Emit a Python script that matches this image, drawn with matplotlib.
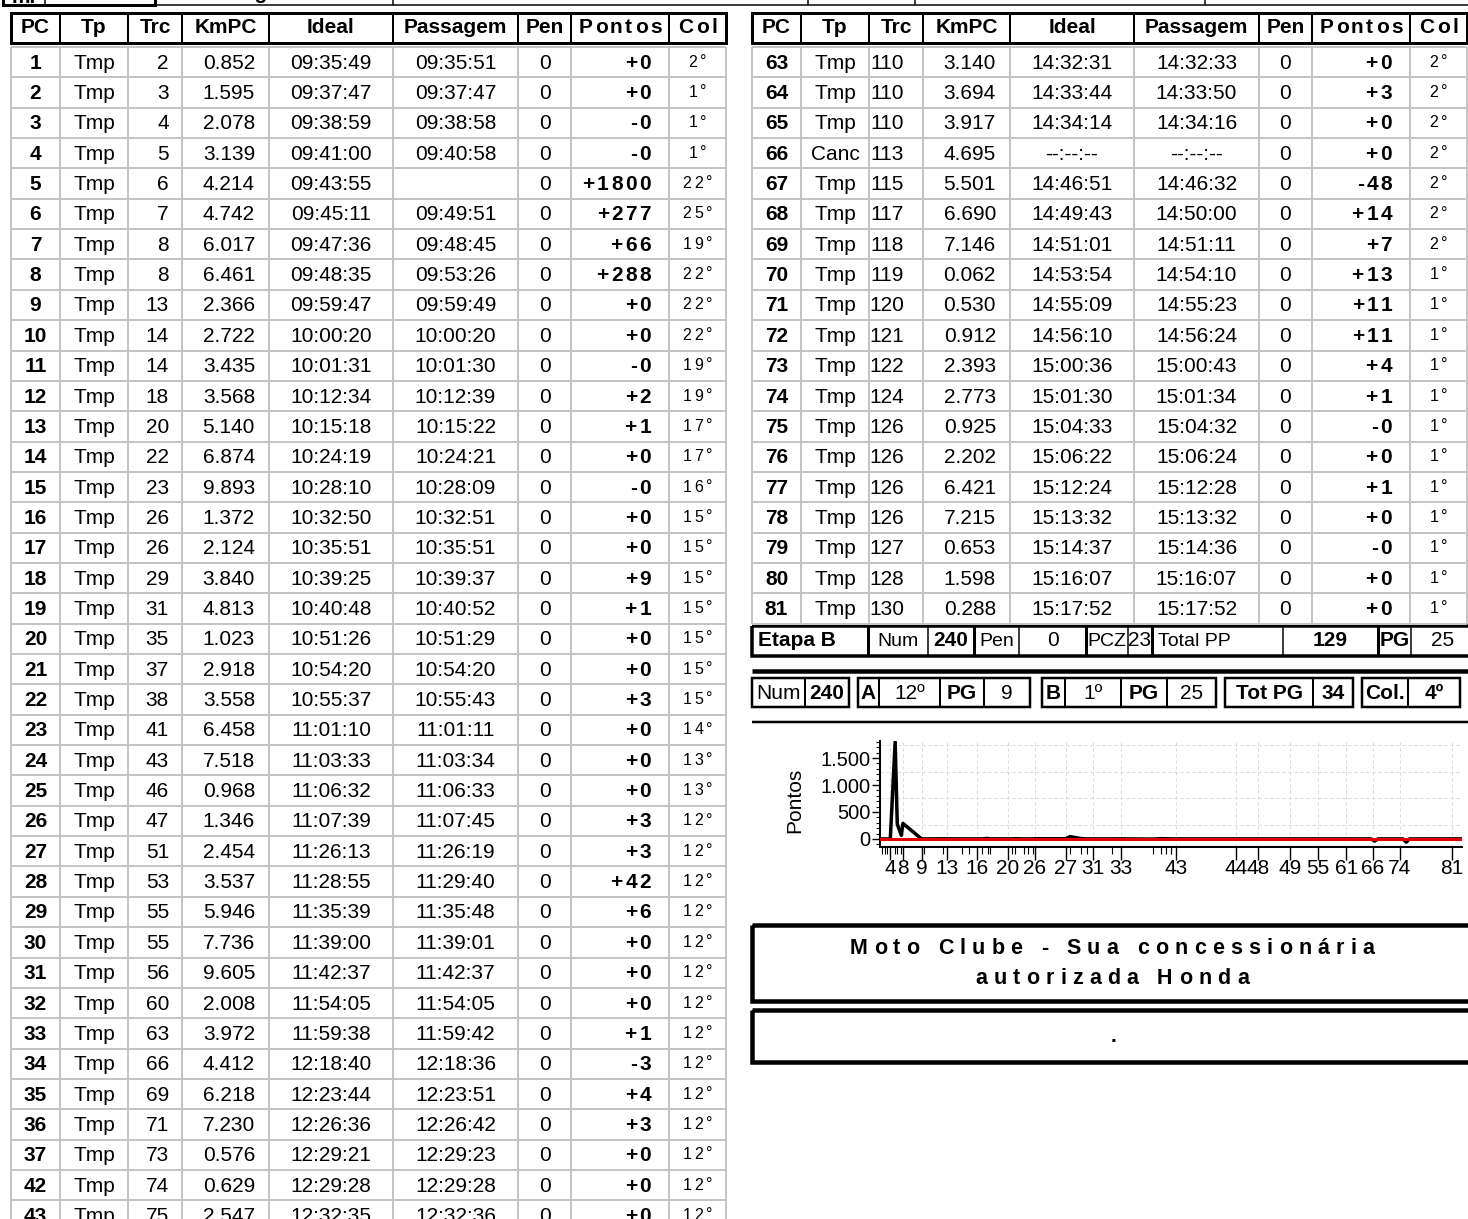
import matplotlib
matplotlib.use('Agg')
import matplotlib.pyplot as plt
from matplotlib.patches import Rectangle
from matplotlib.font_manager import FontProperties
from matplotlib.ticker import FixedLocator, MultipleLocator, FuncFormatter

W, H = 1468, 1219
DPI = 100
PX = 72 / DPI
FONT = ['Liberation Sans', 'DejaVu Sans']
plt.rcParams['font.family'] = FONT

# ---- table data -------------------------------------------------------
COLS = ['PC', 'Tp', 'Trc', 'KmPC', 'Ideal', 'Passagem', 'Pen', 'Pontos', 'Col']

pc_a = [1, 2, 3, 4, 5, 6, 7, 8, 9, 10, 11, 12, 13, 14, 15, 16, 17, 18, 19, 20,
        21, 22, 23, 24, 25, 26, 27, 28, 29, 30, 31, 32, 33, 34, 35, 36, 37, 42, 43]
tp_a = ['Tmp'] * 39
trc_a = [2, 3, 4, 5, 6, 7, 8, 8, 13, 14, 14, 18, 20, 22, 23, 26, 26, 29, 31, 35,
         37, 38, 41, 43, 46, 47, 51, 53, 55, 55, 56, 60, 63, 66, 69, 71, 73, 74, 75]
km_a = ['0.852', '1.595', '2.078', '3.139', '4.214', '4.742', '6.017', '6.461', '2.366', '2.722',
        '3.435', '3.568', '5.140', '6.874', '9.893', '1.372', '2.124', '3.840', '4.813', '1.023',
        '2.918', '3.558', '6.458', '7.518', '0.968', '1.346', '2.454', '3.537', '5.946', '7.736',
        '9.605', '2.008', '3.972', '4.412', '6.218', '7.230', '0.576', '0.629', '2.547']
ideal_a = ['09:35:49', '09:37:47', '09:38:59', '09:41:00', '09:43:55', '09:45:11', '09:47:36',
           '09:48:35', '09:59:47', '10:00:20', '10:01:31', '10:12:34', '10:15:18', '10:24:19',
           '10:28:10', '10:32:50', '10:35:51', '10:39:25', '10:40:48', '10:51:26', '10:54:20',
           '10:55:37', '11:01:10', '11:03:33', '11:06:32', '11:07:39', '11:26:13', '11:28:55',
           '11:35:39', '11:39:00', '11:42:37', '11:54:05', '11:59:38', '12:18:40', '12:23:44',
           '12:26:36', '12:29:21', '12:29:28', '12:32:35']
passagem_a = ['09:35:51', '09:37:47', '09:38:58', '09:40:58', '', '09:49:51', '09:48:45',
              '09:53:26', '09:59:49', '10:00:20', '10:01:30', '10:12:39', '10:15:22', '10:24:21',
              '10:28:09', '10:32:51', '10:35:51', '10:39:37', '10:40:52', '10:51:29', '10:54:20',
              '10:55:43', '11:01:11', '11:03:34', '11:06:33', '11:07:45', '11:26:19', '11:29:40',
              '11:35:48', '11:39:01', '11:42:37', '11:54:05', '11:59:42', '12:18:36', '12:23:51',
              '12:26:42', '12:29:23', '12:29:28', '12:32:36']
pen_a = [0] * 39
pontos_a = ['+0', '+0', '-0', '-0', '+1800', '+277', '+66', '+288', '+0', '+0', '-0', '+2', '+1',
            '+0', '-0', '+0', '+0', '+9', '+1', '+0', '+0', '+3', '+0', '+0', '+0', '+3', '+3',
            '+42', '+6', '+0', '+0', '+0', '+1', '-3', '+4', '+3', '+0', '+0', '+0']
col_a = [2, 1, 1, 1, 22, 25, 19, 22, 22, 22, 19, 19, 17, 17, 16, 15, 15, 15, 15, 15,
         15, 15, 14, 13, 13, 12, 12, 12, 12, 12, 12, 12, 12, 12, 12, 12, 12, 12, 12]

pc_b = list(range(63, 82))
tp_b = ['Tmp', 'Tmp', 'Tmp', 'Canc'] + ['Tmp'] * 15
trc_b = [110, 110, 110, 113, 115, 117, 118, 119, 120, 121, 122, 124, 126, 126, 126, 126, 127, 128, 130]
km_b = ['3.140', '3.694', '3.917', '4.695', '5.501', '6.690', '7.146', '0.062', '0.530', '0.912',
        '2.393', '2.773', '0.925', '2.202', '6.421', '7.215', '0.653', '1.598', '0.288']
ideal_b = ['14:32:31', '14:33:44', '14:34:14', '--:--:--', '14:46:51', '14:49:43', '14:51:01',
           '14:53:54', '14:55:09', '14:56:10', '15:00:36', '15:01:30', '15:04:33', '15:06:22',
           '15:12:24', '15:13:32', '15:14:37', '15:16:07', '15:17:52']
passagem_b = ['14:32:33', '14:33:50', '14:34:16', '--:--:--', '14:46:32', '14:50:00', '14:51:11',
              '14:54:10', '14:55:23', '14:56:24', '15:00:43', '15:01:34', '15:04:32', '15:06:24',
              '15:12:28', '15:13:32', '15:14:36', '15:16:07', '15:17:52']
pen_b = [0] * 19
pontos_b = ['+0', '+3', '+0', '+0', '-48', '+14', '+7', '+13', '+11', '+11', '+4', '+1', '-0',
            '+0', '+1', '+0', '-0', '+0', '+0']
col_b = [2, 2, 2, 2, 2, 2, 2, 1, 1, 1, 1, 1, 1, 1, 1, 1, 1, 1, 1]

# summary rows
etapa_cells = [('Etapa B', True), ('Num', False), ('240', True), ('Pen', False), ('0', False),
               ('PCZ', False), ('23', False), ('Total PP', False), ('129', True), ('PG', True),
               ('25', False)]
resumo_boxes = [[('Num', False), ('240', True)],
                [('A', True), ('12º', False), ('PG', True), ('9', False)],
                [('B', True), ('1º', False), ('PG', True), ('25', False)],
                [('Tot PG', True), ('34', True)],
                [('Col.', True), ('4º', True)]]
patrocinio = ['Moto Clube - Sua concessionária', 'autorizada Honda']

# chart: stage B part (stage A comes from the table)
graf_b_x = [213, 294, 296, 298, 313, 315, 317, 348.5]
graf_b_y = [0, 0, -40, 0, 0, -60, 0, 0]
tick_a_pc = [4, 8, 9, 13, 16, 20, 26, 27, 31, 33, 43]
tick_b_pc = [44, 48, 49, 55, 61, 66, 74, 81]
tick_b_x = [213, 226, 245.5, 262, 279, 295, 311, 342.5]

# ---- layout ---------------------------------------------------------------
COL_W = [49, 68, 54, 87, 124, 125, 53, 98, 57]
HEAD_TOP, HEAD_BOT = 12.7, 43
BODY_TOP, ROW_H = 47, 30.35
GRID = '#c4c4c4'

fig = plt.figure(figsize=(W / DPI, H / DPI), dpi=DPI)
ax = fig.add_axes([0, 0, 1, 1])
ax.set_xlim(0, W)
ax.set_ylim(H, 0)
ax.axis('off')
renderer = fig.canvas.get_renderer()


def ink_w(s, size, weight):
    fp = FontProperties(family=FONT, size=size, weight=weight)
    w, _, _ = renderer.get_text_width_height_descent(s, fp, ismath=False)
    return w


def stext(x, y, s, size=15, weight='normal', ha='center', spacing=0):
    if not spacing:
        ax.text(x, y, s, fontsize=size, fontweight=weight, ha=ha, va='center')
        return
    total = ink_w(s, size, weight) + spacing * (len(s) - 1)
    left = {'left': x, 'center': x - total / 2, 'right': x - total}[ha]
    for i, ch in enumerate(s):
        if ch == ' ':
            continue
        # ink right edge of the prefix minus this glyph's ink width
        xi = left + ink_w(s[:i + 1], size, weight) - ink_w(ch, size, weight) + i * spacing
        ax.text(xi, y, ch, fontsize=size, fontweight=weight, ha='left', va='center')


def hline(y, x1, x2, lw, color='black'):
    ax.plot([x1, x2], [y, y], color=color, lw=lw * PX, solid_capstyle='butt')


def vline(x, y1, y2, lw, color='black'):
    ax.plot([x, x], [y1, y2], color=color, lw=lw * PX, solid_capstyle='butt')


def draw_table(x0, cols, trc_pad):
    edges = [x0]
    for w in COL_W:
        edges.append(edges[-1] + w)
    # header
    ax.add_patch(Rectangle((edges[0], HEAD_TOP), edges[-1] - edges[0], HEAD_BOT - HEAD_TOP,
                           fill=False, ec='black', lw=3 * PX))
    for e in edges[1:-1]:
        vline(e, HEAD_TOP, HEAD_BOT, 2)
    hmid = (HEAD_TOP + HEAD_BOT) / 2
    for name, a, b in zip(COLS, edges[:-1], edges[1:]):
        sp = 2.5 if name in ('Pontos', 'Col') else 0
        stext((a + b) / 2, hmid, name, 15, 'bold', 'center', sp)
    # body grid
    n = len(cols[0])
    bottom = min(BODY_TOP + n * ROW_H, H + 2)
    for e in edges:
        vline(e, BODY_TOP, bottom, 2, GRID)
    for i in range(n + 1):
        y = BODY_TOP + i * ROW_H
        if y <= H:
            hline(y, edges[0], edges[-1], 2, GRID)
    pc, tp, trc, km, ideal, pas, pen, pts, col = cols
    for i in range(n):
        y = BODY_TOP + (i + 0.5) * ROW_H + 1
        c = lambda k: (edges[k] + edges[k + 1]) / 2
        stext(c(0), y, str(pc[i]), 15, 'bold')
        stext(c(1), y, tp[i], 15)
        stext(edges[3] - trc_pad, y, str(trc[i]), 15, ha='right')
        stext(edges[4] - 14, y, km[i], 15, ha='right')
        stext(c(4), y, ideal[i], 15)
        stext(c(5), y, pas[i], 15)
        stext(c(6), y, str(pen[i]), 15)
        stext(edges[8] - 18, y, pts[i], 15, 'bold', 'right', 2.5)
        stext(c(8), y - 1, f'{col[i]}°', 11.5, 'normal', 'center', 3)


# top strip (previous block, mostly cut off)
ax.add_patch(Rectangle((3, -30), 152, 35, fill=False, ec='black', lw=3 * PX))
vline(45, -5, 5, 1.5)
hline(5, 155, W, 1.5)
for xv in [393, 808, 915, 1205]:
    vline(xv, -5, 5, 1.5)
ax.text(24, 3, 'm.', fontsize=15, fontweight='bold', ha='center', va='baseline')
ax.text(258, -1, 'Categoria', fontsize=15, fontweight='bold', ha='center', va='baseline')

draw_table(11, [pc_a, tp_a, trc_a, km_a, ideal_a, passagem_a, pen_a, pontos_a, col_a], 13)
draw_table(752, [pc_b, tp_b, trc_b, km_b, ideal_b, passagem_b, pen_b, pontos_b, col_b], 19)

# Etapa B row
et_edges = [752, 868, 928, 974, 1019, 1086, 1128, 1152, 1283, 1378, 1411, 1475]
et_top, et_bot = 626, 656
ax.add_patch(Rectangle((752, et_top), 1475 - 752, et_bot - et_top, fill=False, ec='black', lw=3.5 * PX))
for k, e in enumerate(et_edges[1:-1], start=1):
    vline(e, et_top, et_bot, 3 if k in (1, 3, 5, 7, 9) else 1.5)
for k, (s, b) in enumerate(etapa_cells):
    a, z = et_edges[k], et_edges[k + 1]
    ym = (et_top + et_bot) / 2
    if s in ('Etapa B', 'Total PP'):
        stext(a + 6, ym, s, 15 if b else 14, 'bold' if b else 'normal', 'left')
    elif b:
        stext((a + z) / 2, ym, s, 15, 'bold')
    else:
        stext((a + z) / 2, ym, s, 14 if len(s) > 2 else 15, 'normal')
hline(671, 752, W, 4.5)

# summary boxes
box_edges = [[752, 805, 849], [858, 879, 940, 984, 1030], [1042, 1065, 1121, 1167, 1216],
             [1225, 1313, 1353], [1362, 1408, 1460]]
rs_top, rs_bot = 678, 707
for cells, ed in zip(resumo_boxes, box_edges):
    ax.add_patch(Rectangle((ed[0], rs_top), ed[-1] - ed[0], rs_bot - rs_top, fill=False,
                           ec='black', lw=2.5 * PX))
    for e in ed[1:-1]:
        vline(e, rs_top, rs_bot, 2)
    for (s, b), a, z in zip(cells, ed[:-1], ed[1:]):
        stext((a + z) / 2, (rs_top + rs_bot) / 2 + 1, s, 15, 'bold' if b else 'normal')
hline(722, 752, W, 2.5)

# sponsor boxes
ax.add_patch(Rectangle((752, 925), 730, 76, fill=False, ec='black', lw=4.5 * PX))
stext(1112, 948, patrocinio[0], 15.5, 'bold', 'center', 6.2)
stext(1112, 978, patrocinio[1], 15.5, 'bold', 'center', 6.2)
ax.add_patch(Rectangle((752, 1010), 730, 52, fill=False, ec='black', lw=4.5 * PX))
stext(1113, 1036, '.', 15, 'bold')

# ---- chart -------------------------------------------------------------------


def minutos(hms):
    h, m, s = (int(v) for v in hms.split(':'))
    return h * 60 + m + s / 60


t0 = minutos(ideal_a[0])
xa = [minutos(t) - t0 for t in ideal_a]
ya = [int(p) for p in pontos_a]
gx = xa + graf_b_x
gy = ya + graf_b_y

tick_x = [xa[pc_a.index(p)] for p in tick_a_pc] + tick_b_x
tick_lab = [str(p) for p in tick_a_pc + tick_b_pc]

cx0, cx1, cy0, cy1 = 880, 1462, 741, 847
ax2 = fig.add_axes([cx0 / W, 1 - cy1 / H, (cx1 - cx0) / W, (cy1 - cy0) / H])
ax2.patch.set_alpha(0)
ax2.plot(gx, gy, color='black', lw=3.5 * PX, zorder=3)
ax2.axhline(0, color='#e00000', lw=3 * PX, zorder=4)
ax2.set_xlim(-1, 348.5)
ax2.set_ylim(-150, 1817)
ax2.xaxis.set_major_locator(FixedLocator(tick_x))
ax2.set_xticklabels(tick_lab)
ax2.xaxis.set_minor_locator(FixedLocator(xa + tick_b_x))
ax2.yaxis.set_major_locator(FixedLocator([0, 500, 1000, 1500]))
ax2.yaxis.set_minor_locator(MultipleLocator(100))
ax2.yaxis.set_major_formatter(FuncFormatter(lambda v, p: f'{v:,.0f}'.replace(',', '.')))
for yv in [250, 750, 1250, 1750]:
    ax2.axhline(yv, color='#d8d8d8', lw=1 * PX, ls=(0, (3, 3)), zorder=1)
ax2.grid(axis='x', which='major', color='#d8d8d8', lw=1 * PX, ls=(0, (3, 3)), zorder=1)
for s in ['top', 'right']:
    ax2.spines[s].set_visible(False)
for s in ['left', 'bottom']:
    ax2.spines[s].set_linewidth(2 * PX)
ax2.tick_params(axis='y', which='major', labelsize=14.5, length=6, width=1, pad=1)
ax2.tick_params(axis='x', which='major', labelsize=15, length=9, width=1, pad=0)
ax2.tick_params(axis='y', which='minor', length=3, width=0.8)
ax2.tick_params(axis='x', which='minor', length=5, width=0.8)
ax.text(795, 800, 'Pontos', fontsize=15, rotation=90, ha='center', va='center')

fig.savefig('out.png', dpi=DPI)
